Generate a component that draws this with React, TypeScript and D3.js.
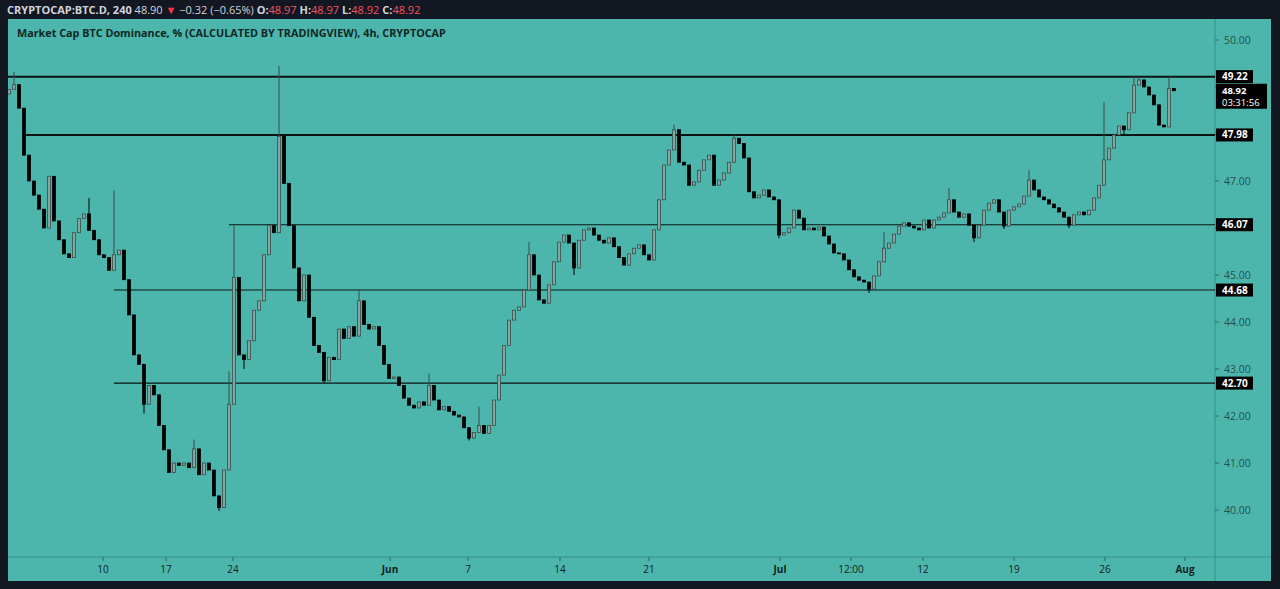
import * as d3 from "d3";

const closes = [
  48.95, 49.05, 48.55, 47.55, 47.0, 46.7, 46.4, 46.0, 47.1, 46.15,
  45.75, 45.45, 45.37, 45.9, 46.2, 46.3, 45.95, 45.75, 45.43, 45.37,
  45.1, 45.43, 45.53, 44.9, 44.15, 43.3, 43.1, 42.25, 42.65, 42.45,
  41.8, 41.28, 40.8, 41.0, 40.95, 41.0, 40.9, 41.3, 40.75, 41.0,
  40.85, 40.3, 40.05, 40.85, 42.25, 44.95, 43.3, 43.2, 43.6, 44.25,
  44.45, 45.43, 46.05, 45.9, 47.95, 46.95, 46.05, 45.15, 44.45, 45.0,
  44.1, 43.5, 43.35, 42.75, 43.25, 43.2, 43.85, 43.65, 43.9, 43.7,
  44.45, 43.95, 43.85, 43.9, 43.5, 43.1, 42.8, 42.83, 42.65, 42.38,
  42.23, 42.17, 42.3, 42.23, 42.65, 42.34, 42.13, 42.2, 42.1, 42.02,
  41.98, 41.75, 41.53, 41.65, 41.8, 41.63, 41.8, 42.34, 42.87, 43.5,
  44.04, 44.25, 44.32, 44.68, 45.43, 45.0, 44.47, 44.4, 44.79, 45.28,
  45.7, 45.85, 45.68, 45.15, 45.74, 45.96, 46.0, 45.85, 45.74, 45.68,
  45.79, 45.6, 45.37, 45.21, 45.45, 45.57, 45.64, 45.43, 45.32, 45.96,
  46.6, 47.34, 47.66, 48.09, 47.4, 47.34, 46.91, 46.98, 47.23, 47.45,
  47.55, 46.91, 47.02, 47.17, 47.4, 47.91, 47.8, 47.49, 46.77, 46.64,
  46.7, 46.81, 46.66, 46.6, 45.85, 45.9, 46.0, 46.38, 46.21, 45.96,
  46.0, 45.96, 46.02, 45.83, 45.66, 45.47, 45.45, 45.32, 45.11, 44.96,
  44.89, 44.85, 44.7, 44.98, 45.28, 45.57, 45.68, 45.87, 46.04, 46.11,
  46.04, 46.0, 45.96, 46.17, 46.0, 46.17, 46.23, 46.32, 46.6, 46.34,
  46.23, 46.3, 46.06, 45.79, 46.06, 46.38, 46.53, 46.6, 46.34, 46.04,
  46.38, 46.45, 46.51, 46.68, 47.02, 46.81, 46.66, 46.6, 46.51, 46.43,
  46.34, 46.23, 46.06, 46.28, 46.34, 46.28, 46.38, 46.64, 46.91, 47.45,
  47.7, 47.98, 48.17, 48.09, 48.45, 49.04, 49.15, 49.0, 48.83, 48.62,
  48.19, 48.15, 48.97, 48.92,
];
const firstOpen = 48.85;

// long wicks that reach past the body
const highIdx = [1, 3, 16, 21, 37, 44, 45, 54, 70, 84, 94, 104, 133, 145, 175, 188, 204, 219, 225, 226, 232];
const highVals = [49.32, 47.98, 46.64, 46.8, 41.5, 42.95, 46.05, 49.45, 44.7, 42.9, 42.2, 45.7, 48.2, 47.98, 45.91, 46.85, 47.23, 48.68, 49.22, 49.22, 49.22];
const lowIdx = [27, 42, 47, 63, 92, 113, 154, 172, 193, 199, 212, 223];
const lowVals = [42.05, 39.98, 43.0, 42.7, 41.48, 45.0, 45.78, 44.62, 45.7, 45.98, 46.0, 47.98];

// horizontal levels and the candle where each drawn line begins
const levelValues = [49.22, 47.98, 46.07, 44.68, 42.7];
const levelStart = [-0.2, 3, 44, 21, 21];

const priceTicks = [40, 41, 42, 43, 44, 45, 46, 47, 48, 49, 50];
const timeLabels = ["10", "17", "24", "Jun", "7", "14", "21", "Jul", "12:00", "12", "19", "26", "Aug"];
const timeIdx = [18.8, 31.4, 44.8, 76.2, 91.8, 110.2, 128, 154.2, 168.4, 182.8, 201, 219.2, 235.2];

const lastPrice = 48.92;
const countdown = "03:31:56";

const W = 1280;
const H = 589;
const panelL = 8, panelT = 19, panelR = 1271, panelB = 581;
const plotR = 1215, axisY = 557;
const font = "'Open Sans', 'Noto Sans', sans-serif";

export default function App() {
  const x = d3.scaleLinear().domain([0, closes.length - 1]).range([9, 1174]);
  const y = d3.scaleLinear().domain([40, 50]).range([510, 40]);

  const candles = closes.map((c, i) => {
    const o = i === 0 ? firstOpen : closes[i - 1];
    const hi = highIdx.indexOf(i);
    const lo = lowIdx.indexOf(i);
    return {
      o, c,
      h: hi >= 0 ? highVals[hi] : Math.max(o, c),
      l: lo >= 0 ? lowVals[lo] : Math.min(o, c),
    };
  });

  // axis labels that sit under a badge are hidden, as TradingView does
  const badgeYs = [...levelValues, lastPrice].map((v) => y(v));
  const visibleTicks = priceTicks.filter((t) => badgeYs.every((by) => Math.abs(by - y(t)) > 9));

  const bw = 3;

  return (
    <svg width={W} height={H} style={{ position: "absolute", left: 0, top: 0, display: "block" }}>
      <rect x={0} y={0} width={W} height={H} fill="#131722" />
      <rect x={panelL} y={panelT} width={panelR - panelL} height={panelB - panelT} fill="#4db6ac" />

      {/* header */}
      <text x={7} y={14} fontSize={11} fontFamily={font} fill="#d1d4dc">
        <tspan fontWeight={700}>CRYPTOCAP:BTC.D, 240 </tspan>
        <tspan>48.90</tspan>
        <tspan fill="#f23645"> ▼ </tspan>
        <tspan>−0.32 (−0.65%) </tspan>
        <tspan fontWeight={700}>O:</tspan><tspan fill="#f7525f">48.97 </tspan>
        <tspan fontWeight={700}>H:</tspan><tspan fill="#f7525f">48.97 </tspan>
        <tspan fontWeight={700}>L:</tspan><tspan fill="#f7525f">48.92 </tspan>
        <tspan fontWeight={700}>C:</tspan><tspan fill="#f7525f">48.92</tspan>
      </text>
      <text x={17} y={37} fontSize={10.8} fontWeight={700} fontFamily={font} fill="#0f2724">
        Market Cap BTC Dominance, % (CALCULATED BY TRADINGVIEW), 4h, CRYPTOCAP
      </text>

      {/* axes separators */}
      <line x1={plotR} x2={plotR} y1={panelT} y2={panelB} stroke="#3b8f87" />
      <line x1={panelL} x2={panelR} y1={axisY} y2={axisY} stroke="#3b8f87" />

      {/* price axis */}
      {priceTicks.map((t) => (
        <line key={t} x1={plotR} x2={plotR + 4} y1={y(t)} y2={y(t)} stroke="#2d6b65" />
      ))}
      {visibleTicks.map((t) => (
        <text key={t} x={1224} y={y(t)} dy="0.35em" fontSize={10.5} fontFamily={font} fill="#24504b">
          {t.toFixed(2)}
        </text>
      ))}

      {/* time axis */}
      {timeLabels.map((lab, i) => {
        const tx = x(timeIdx[i]);
        const bold = ["Jun", "Jul", "Aug"].includes(lab);
        return (
          <g key={lab + i} transform={`translate(${tx},0)`}>
            <line y1={axisY} y2={axisY + 4} stroke="#2d6b65" />
            <text y={573} textAnchor="middle" fontSize={10} fontWeight={bold ? 700 : 400} fontFamily={font} fill="#0d1f1d">
              {lab}
            </text>
          </g>
        );
      })}

      <defs>
        <clipPath id="plot">
          <rect x={panelL} y={panelT} width={plotR - panelL} height={axisY - panelT} />
        </clipPath>
      </defs>

      <g clipPath="url(#plot)">
        {levelValues.map((v, i) => (
          <line key={v} x1={x(levelStart[i])} x2={plotR} y1={y(v)} y2={y(v)}
            stroke="#0a1413" strokeWidth={i < 2 ? 2 : 1.1} />
        ))}
        {candles.map((d, i) => {
          const up = d.c >= d.o;
          const cx = x(i);
          const top = y(Math.max(d.o, d.c));
          const bot = y(Math.min(d.o, d.c));
          return (
            <g key={i}>
              <line x1={cx} x2={cx} y1={y(d.h)} y2={y(d.l)} stroke={up ? "#3c4b49" : "#000"} strokeWidth={1} />
              <rect x={cx - bw / 2} y={top} width={bw} height={Math.max(1, bot - top)}
                fill={up ? "#7fa8a3" : "#000"} stroke={up ? "#3c4b49" : "#000"} strokeWidth={0.8} />
            </g>
          );
        })}
      </g>

      {/* level badges */}
      {levelValues.map((v) => (
        <g key={v} transform={`translate(${plotR + 1},${y(v)})`}>
          <rect x={0} y={-6.5} width={37} height={13} fill="#000" />
          <text x={6} dy="0.35em" fontSize={10} fontWeight={700} fontFamily={font} fill="#fff">{v.toFixed(2)}</text>
        </g>
      ))}
      <g transform={`translate(${plotR + 1},${y(lastPrice)})`}>
        <rect x={0} y={-7} width={51} height={25} fill="#000" />
        <text x={6} y={-0.5} dy="0.35em" fontSize={9.5} fontWeight={700} fontFamily={font} fill="#fff">{lastPrice.toFixed(2)}</text>
        <text x={6} y={12} dy="0.35em" fontSize={9.5} fontFamily={font} fill="#fff">{countdown}</text>
      </g>
    </svg>
  );
}
